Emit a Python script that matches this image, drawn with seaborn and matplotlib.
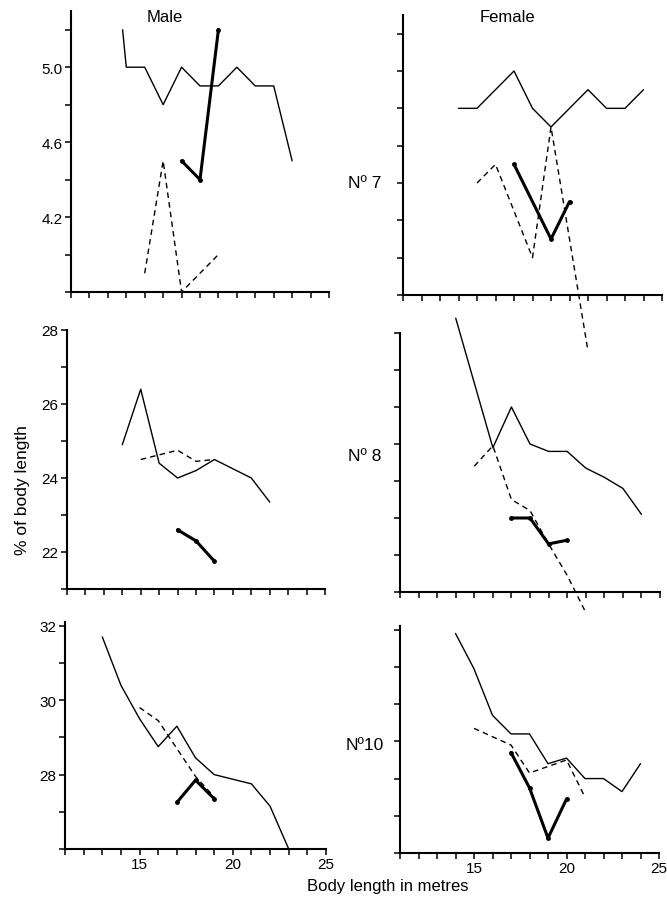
import matplotlib
matplotlib.use("Agg")
import matplotlib.pyplot as plt
import seaborn as sns
import pandas as pd

# ---------------- data ----------------
# Row 1 (No 7)
m7_thin_x = [13.8, 14, 15, 16, 17, 18, 19, 20, 21, 22, 23]
m7_thin_y = [5.2, 5.0, 5.0, 4.8, 5.0, 4.9, 4.9, 5.0, 4.9, 4.9, 4.5]
m7_dash_x = [15, 16, 17, 19]
m7_dash_y = [3.9, 4.5, 3.8, 4.0]
m7_thick_x = [17, 18, 19]
m7_thick_y = [4.5, 4.4, 5.2]

f7_thin_x = [14, 15, 17, 18, 19, 21, 22, 23, 24]
f7_thin_y = [4.8, 4.8, 5.0, 4.8, 4.7, 4.9, 4.8, 4.8, 4.9]
f7_dash_x = [15, 16, 18, 19, 21]
f7_dash_y = [4.4, 4.5, 4.0, 4.7, 3.5]
f7_thick_x = [17, 19, 20]
f7_thick_y = [4.5, 4.1, 4.3]

# Row 2 (No 8)
m8_thin_x = [14, 15, 16, 17, 18, 19, 21, 22]
m8_thin_y = [24.9, 26.4, 24.4, 24.0, 24.2, 24.5, 24.0, 23.35]
m8_dash_x = [15, 17, 18, 19]
m8_dash_y = [24.5, 24.75, 24.45, 24.5]
m8_thick_x = [17, 18, 19]
m8_thick_y = [22.6, 22.3, 21.75]

f8_thin_x = [14, 16, 17, 18, 19, 20, 21, 22, 23, 24]
f8_thin_y = [28.4, 24.9, 26.0, 25.0, 24.8, 24.8, 24.35, 24.1, 23.8, 23.1]
f8_dash_x = [15, 16, 17, 18, 19, 20, 21]
f8_dash_y = [24.4, 24.95, 23.5, 23.2, 22.3, 21.45, 20.45]
f8_thick_x = [17, 18, 19, 20]
f8_thick_y = [23.0, 23.0, 22.3, 22.4]

# Row 3 (No 10)
m10_thin_x = [13, 14, 15, 16, 17, 18, 19, 21, 22, 23]
m10_thin_y = [31.7, 30.4, 29.5, 28.75, 29.3, 28.45, 28.0, 27.75, 27.15, 26.0]
m10_dash_x = [15, 16, 17, 18, 19]
m10_dash_y = [29.8, 29.45, 28.7, 27.95, 27.4]
m10_thick_x = [17, 18, 19]
m10_thick_y = [27.25, 27.85, 27.35]

f10_thin_x = [14, 15, 16, 17, 18, 19, 20, 21, 22, 23, 24]
f10_thin_y = [31.9, 30.95, 29.7, 29.2, 29.2, 28.4, 28.55, 28.0, 28.0, 27.65, 28.4]
f10_dash_x = [15, 17, 18, 20, 21]
f10_dash_y = [29.35, 28.9, 28.15, 28.5, 27.5]
f10_thick_x = [17, 18, 19, 20]
f10_thick_y = [28.7, 27.75, 26.4, 27.45]

x_ticks = list(range(11, 26))
x_labels = ["15", "20", "25"]
row_labels = ["Nº 7", "Nº 8", "Nº10"]
col_titles = ["Male", "Female"]

row_ylim = [(3.8, 5.3), (21, 28), (26, 32.1)]
row_yticks = [[3.8, 4.0, 4.2, 4.4, 4.6, 4.8, 5.0, 5.2],
              [21, 22, 23, 24, 25, 26, 27, 28],
              [26, 27, 28, 29, 30, 31, 32]]
row_ylabels = [{4.2: "4.2", 4.6: "4.6", 5.0: "5.0"},
               {22: "22", 24: "24", 26: "26", 28: "28"},
               {28: "28", 30: "30", 32: "32"}]

panels = [
    [(m7_thin_x, m7_thin_y, m7_dash_x, m7_dash_y, m7_thick_x, m7_thick_y),
     (f7_thin_x, f7_thin_y, f7_dash_x, f7_dash_y, f7_thick_x, f7_thick_y)],
    [(m8_thin_x, m8_thin_y, m8_dash_x, m8_dash_y, m8_thick_x, m8_thick_y),
     (f8_thin_x, f8_thin_y, f8_dash_x, f8_dash_y, f8_thick_x, f8_thick_y)],
    [(m10_thin_x, m10_thin_y, m10_dash_x, m10_dash_y, m10_thick_x, m10_thick_y),
     (f10_thin_x, f10_thin_y, f10_dash_x, f10_dash_y, f10_thick_x, f10_thick_y)],
]

# ---------------- layout ----------------
sns.set_style("ticks")
plt.rcParams["font.family"] = ["Liberation Sans", "DejaVu Sans"]
plt.rcParams["text.color"] = "black"
plt.rcParams["axes.labelcolor"] = "black"
plt.rcParams["xtick.color"] = "black"
plt.rcParams["ytick.color"] = "black"

W, H = 667, 903
fig = plt.figure(figsize=(W / 100, H / 100), dpi=100)

# pixel boxes: (left, right, y_of_ylim_bottom, y_of_ylim_top)
boxes = [
    [(71, 329, 293, 12), (403, 662, 296, 16)],
    [(67, 325, 590, 331), (400, 660, 593, 334)],
    [(65, 326, 850, 623), (400, 659, 854, 627)],
]

for r in range(3):
    for c in range(2):
        l, rr, b, t = boxes[r][c]
        ax = fig.add_axes([l / W, 1 - b / H, (rr - l) / W, (b - t) / H])
        tx, ty, dx, dy, kx, ky = panels[r][c]
        df_t = pd.DataFrame({"x": tx, "y": ty})
        df_d = pd.DataFrame({"x": dx, "y": dy})
        df_k = pd.DataFrame({"x": kx, "y": ky})
        sns.lineplot(data=df_t, x="x", y="y", ax=ax, color="black", lw=1.0,
                     estimator=None, sort=False, clip_on=False)
        sns.lineplot(data=df_d, x="x", y="y", ax=ax, color="black", lw=1.0,
                     estimator=None, sort=False, clip_on=False,
                     dashes=False, linestyle=(0, (4, 3)))
        sns.lineplot(data=df_k, x="x", y="y", ax=ax, color="black", lw=2.2,
                     estimator=None, sort=False, clip_on=False,
                     marker="o", markersize=3.5, markeredgewidth=0)
        ax.set_xlim(11, 25)
        ax.set_ylim(*row_ylim[r])
        ax.set_xlabel("")
        ax.set_ylabel("")
        sns.despine(ax=ax)
        for s in ("left", "bottom"):
            ax.spines[s].set_linewidth(1.5)
            ax.spines[s].set_color("black")
        ax.set_xticks(x_ticks)
        if r == 2:
            ax.set_xticklabels([str(v) if str(v) in x_labels else "" for v in x_ticks])
        else:
            ax.set_xticklabels([])
        yt = row_yticks[r]
        ax.set_yticks(yt)
        if c == 0:
            ax.set_yticklabels([row_ylabels[r].get(v, "") for v in yt])
        else:
            ax.set_yticklabels([])
        ax.tick_params(axis="both", direction="out", length=4, width=1.1,
                       colors="black", labelcolor="black", labelsize=11, pad=2)
        ax.patch.set_alpha(0)

fig.text(165 / W, 1 - 18 / H, col_titles[0], ha="center", va="center",
         fontsize=12, color="black")
fig.text(507 / W, 1 - 18 / H, col_titles[1], ha="center", va="center",
         fontsize=12, color="black")
for lab, yy in zip(row_labels, [184, 457, 745]):
    fig.text(365 / W, 1 - yy / H, lab, ha="center", va="center",
             fontsize=12.5, color="black")
fig.text(23 / W, 1 - 490 / H, "% of body length", rotation=90, ha="center",
         va="center", fontsize=12.5, color="black")
fig.text(388 / W, 1 - 887 / H, "Body length in metres", ha="center",
         va="center", fontsize=12, color="black")

fig.savefig("out.png", dpi=100)
